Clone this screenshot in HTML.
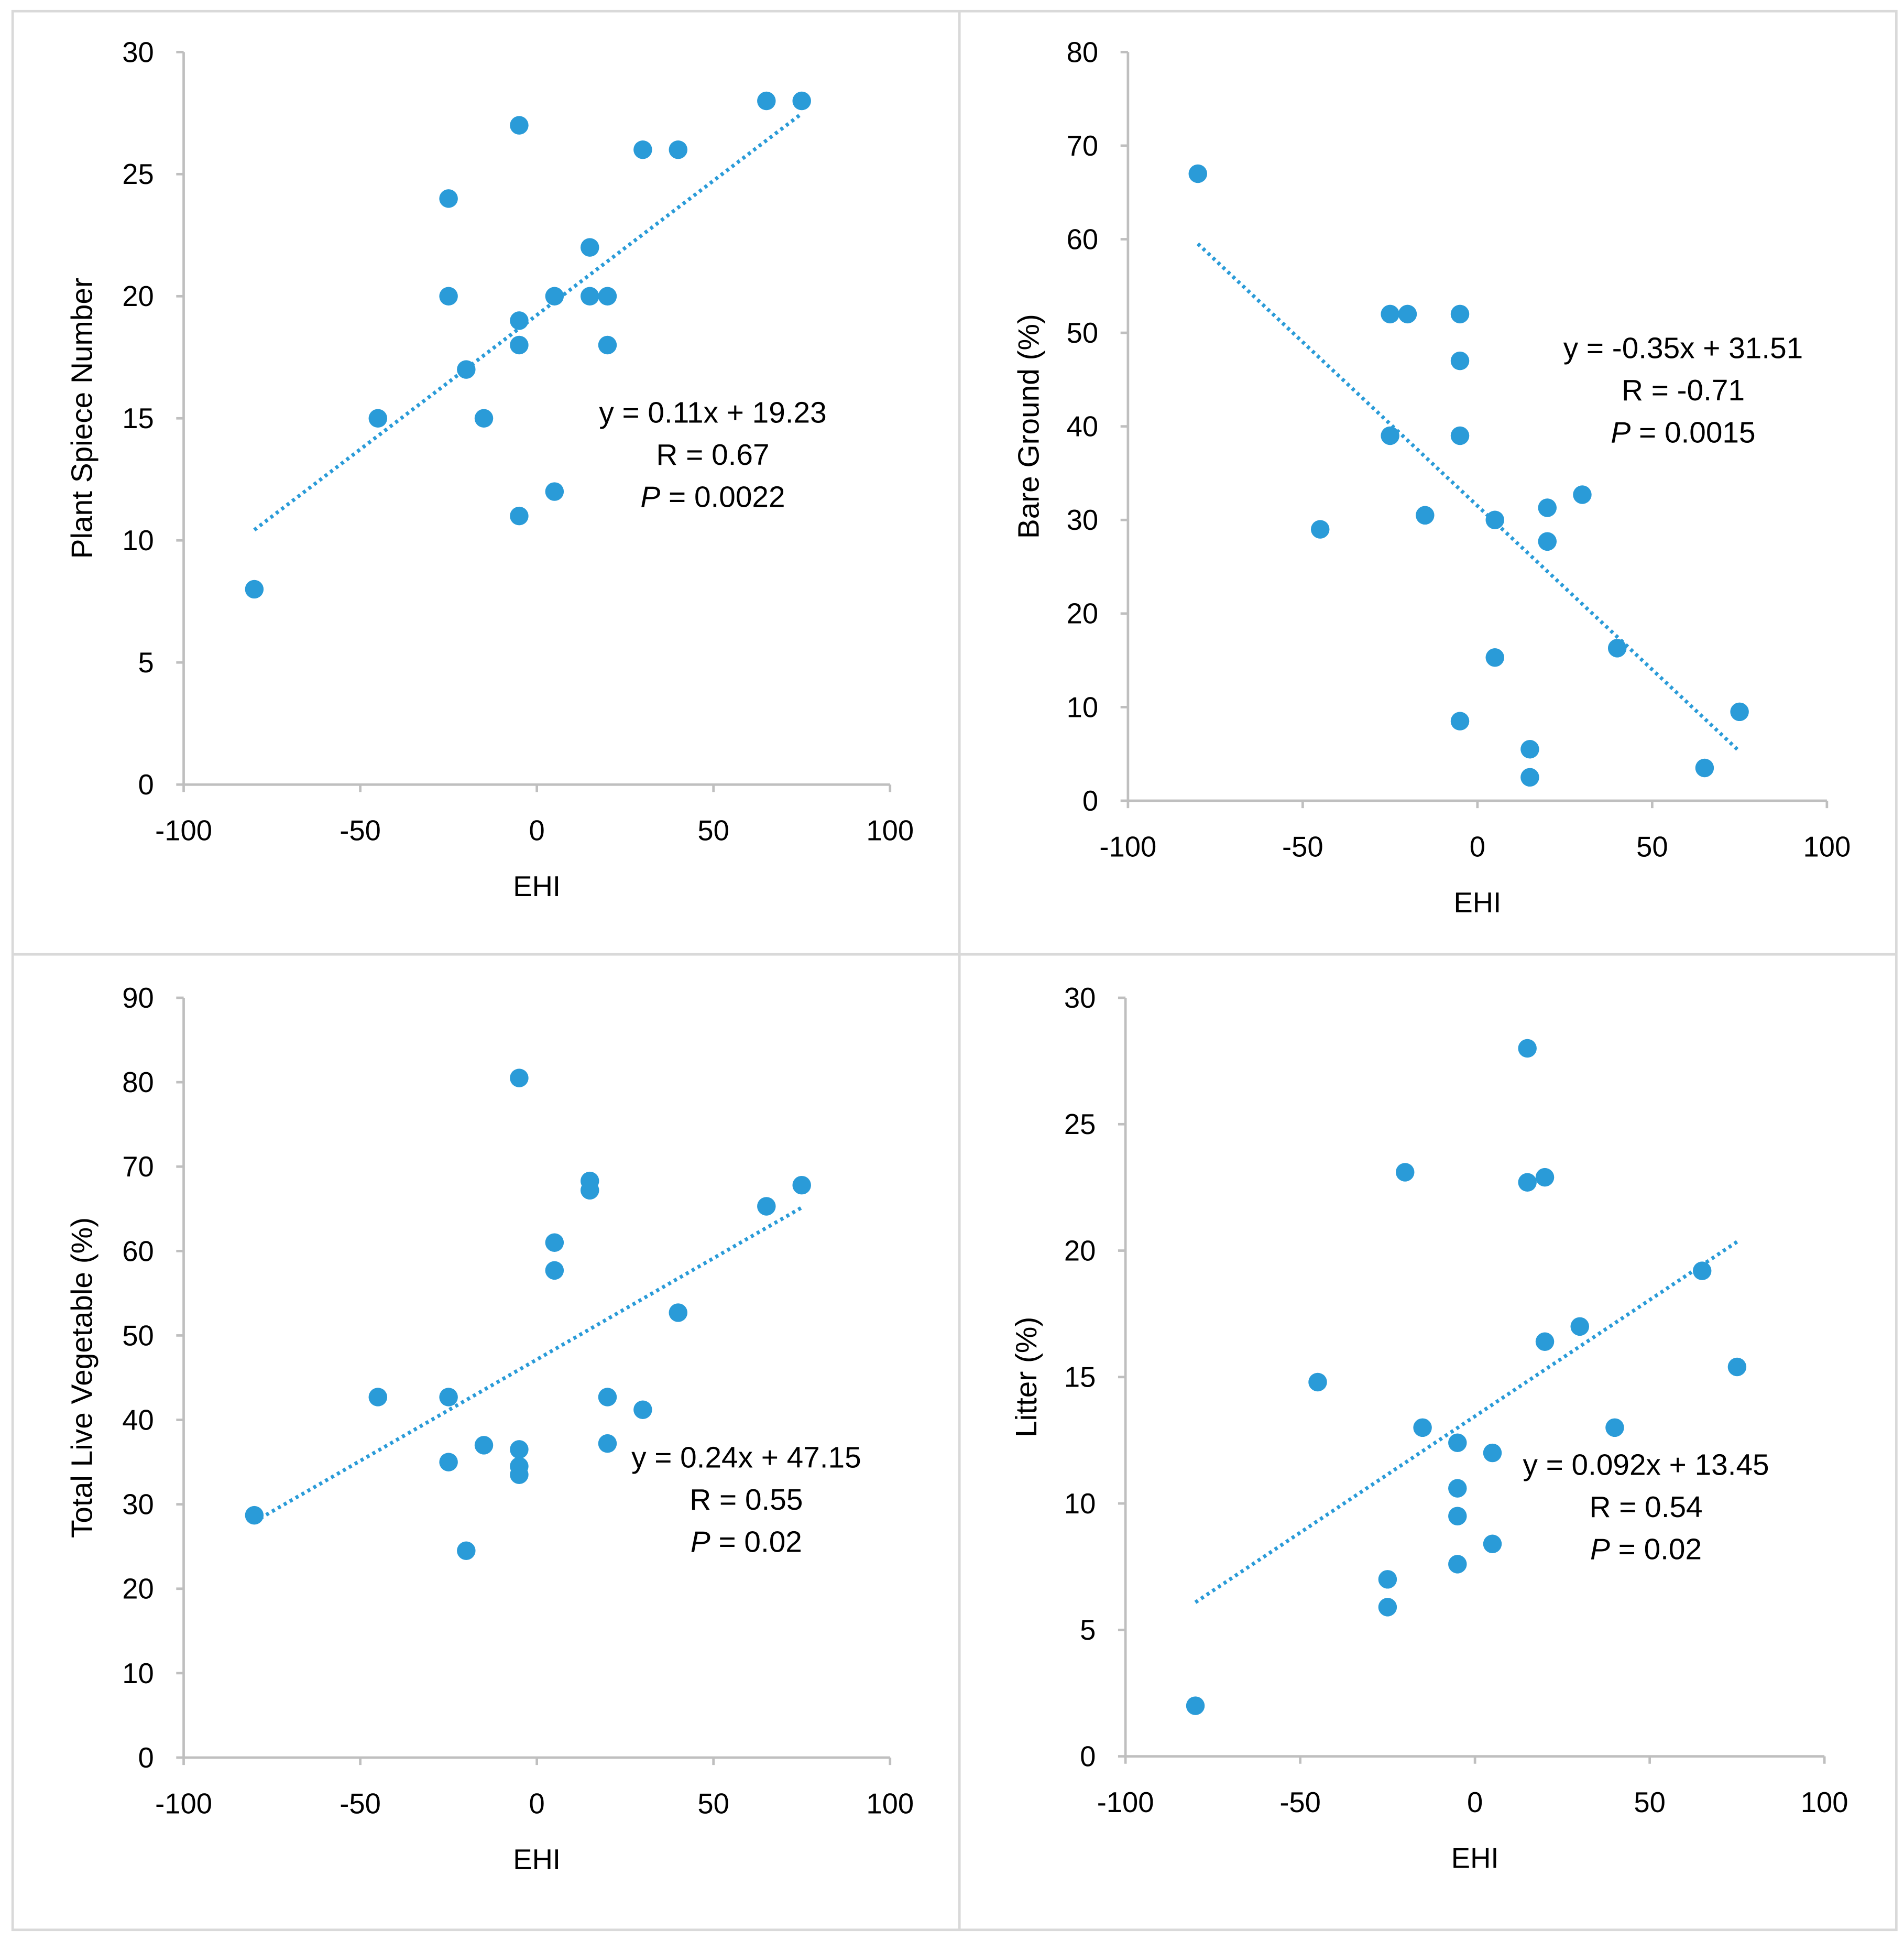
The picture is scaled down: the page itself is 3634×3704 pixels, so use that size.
<!DOCTYPE html>
<html><head><meta charset="utf-8"><style>
html,body{margin:0;padding:0;background:#fff;}
svg{display:block;font-family:"Liberation Sans",sans-serif;}
</style></head><body>
<svg id="fig" width="3634" height="3704" viewBox="0 0 1536 1566" xmlns="http://www.w3.org/2000/svg">
<rect x="10" y="9" width="1520" height="1548" fill="#fff" stroke="#d9d9d9" stroke-width="2"/>
<line x1="774" y1="9" x2="774" y2="1557" stroke="#d9d9d9" stroke-width="2"/>
<line x1="10" y1="770" x2="1530" y2="770" stroke="#d9d9d9" stroke-width="2"/>
</svg>
<script>
const xTicks = [-100, -50, 0, 50, 100];
const ehi1 = [-80,-45,-25,-25,-20,-15,-5,-5,-5,-5,5,5,15,15,20,20,30,40,65,75];
const species = [8,15,24,20,17,15,27,19,18,11,20,12,22,20,20,18,26,26,28,28];
const ehi2 = [-80,-45,-25,-25,-20,-15,-5,-5,-5,-5,5,5,15,15,20,20,30,40,65,75];
const bare = [67,29,52,39,52,30.5,52,47,39,8.5,30,15.3,5.5,2.5,31.3,27.7,32.7,16.3,3.5,9.5];
const ehi3 = [-80,-45,-25,-25,-20,-15,-5,-5,-5,-5,5,5,15,15,20,20,30,40,65,75];
const live = [28.7,42.7,42.7,35,24.5,37,80.5,36.5,34.5,33.5,61,57.7,68.3,67.2,42.7,37.2,41.2,52.7,65.3,67.8];
const ehi4 = [-80,-45,-25,-25,-20,-15,-5,-5,-5,-5,5,5,15,15,20,20,30,40,65,75];
const litter = [2,14.8,7,5.9,23.1,13,12.4,10.6,9.5,7.6,12,8.4,28,22.7,22.9,16.4,17,13,19.2,15.4];
const yTicks1 = [0,5,10,15,20,25,30];
const yTicks2 = [0,10,20,30,40,50,60,70,80];
const yTicks3 = [0,10,20,30,40,50,60,70,80,90];
const yTicks4 = [0,5,10,15,20,25,30];
const fit1 = [0.11, 19.23];
const fit2 = [-0.35, 31.51];
const fit3 = [0.24, 47.15];
const fit4 = [0.092, 13.45];

const NS = "http://www.w3.org/2000/svg";
const svg = document.getElementById('fig');
const BLUE = "#2a9bd8";
const FS = 23;
function mk(tag, attrs, parent){const e=document.createElementNS(NS,tag);for(const k in attrs)e.setAttribute(k,attrs[k]);(parent||svg).appendChild(e);return e;}

function panel(o){
  const g = mk('g',{});
  
  
  const ymax = o.yt[o.yt.length-1];
  const sx = v => o.x0 + (v+100)/200*(o.x1-o.x0);
  const sy = v => o.y0 - v/ymax*(o.y0-o.y1);
  const ax = mk('line',{x1:sx(-100),y1:o.y0,x2:sx(100),y2:o.y0,stroke:"#bfbfbf","stroke-width":2},g);
  
  
  const ay = mk('line',{x1:sx(-100),y1:o.y0,x2:sx(-100),y2:o.y1,stroke:"#bfbfbf","stroke-width":2},g);
  
  
  xTicks.forEach(t=>{
    mk('line',{x1:sx(t),y1:o.y0,x2:sx(t),y2:o.y0+6,stroke:"#bfbfbf","stroke-width":2},g);
    const tx = mk('text',{x:sx(t),y:o.y0+45,"text-anchor":"middle","font-size":FS,fill:"#000"},g);
    tx.textContent = t;
    
    
  });
  o.yt.forEach(t=>{
    mk('line',{x1:sx(-100)-6,y1:sy(t),x2:sx(-100),y2:sy(t),stroke:"#bfbfbf","stroke-width":2},g);
    const tx = mk('text',{x:sx(-100)-24,y:sy(t)+8,"text-anchor":"end","font-size":FS,fill:"#000"},g);
    tx.textContent = t;
    
    
  });
  const xt = mk('text',{x:sx(0),y:o.y0+90,"text-anchor":"middle","font-size":FS,fill:"#000"},g);
  xt.textContent = "EHI";
  
  
  const yc = (o.y0+o.y1)/2;
  const yt = mk('text',{x:o.ytx,y:yc,"text-anchor":"middle","font-size":24,fill:"#000",transform:`rotate(-90 ${o.ytx} ${yc})`},g);
  yt.textContent = o.ytitle;
  
  
  const xa = Math.min(...o.xs), xb = Math.max(...o.xs);
  const tl = mk('line',{x1:sx(xa),y1:sy(o.fit[0]*xa+o.fit[1]),x2:sx(xb),y2:sy(o.fit[0]*xb+o.fit[1]),stroke:BLUE,"stroke-width":3,"stroke-dasharray":"2.5 3"},g);
  
  
  o.xs.forEach((x,i)=>{
    const c = mk('circle',{cx:sx(x),cy:sy(o.ys[i]),r:7.5,fill:BLUE},g);
    
    
  });
  const lines = [o.eq, "R = "+o.r];
  lines.forEach((s,i)=>{
    const t = mk('text',{x:o.ex,y:o.ey+i*34,"text-anchor":"middle","font-size":24,fill:"#000"},g);
    t.textContent = s;
    
    
  });
  const p = mk('text',{x:o.ex,y:o.ey+68,"text-anchor":"middle","font-size":24,fill:"#000"},g);
  
  
  const pi = mk('tspan',{"font-style":"italic"},p); pi.textContent="P";
  const pr = mk('tspan',{},p); pr.textContent=" = "+o.p;
}
panel({name:'panel-plant-species',x0:148,x1:718,y0:633,y1:42,yt:yTicks1,xs:ehi1,ys:species,fit:fit1,ytitle:"Plant Spiece Number",ytx:74,eq:"y = 0.11x + 19.23",r:"0.67",p:"0.0022",ex:575,ey:341});
panel({name:'panel-bare-ground',x0:910,x1:1474,y0:646,y1:42,yt:yTicks2,xs:ehi2,ys:bare,fit:fit2,ytitle:"Bare Ground (%)",ytx:838,eq:"y = -0.35x + 31.51",r:"-0.71",p:"0.0015",ex:1358,ey:289});
panel({name:'panel-live-vegetable',x0:148,x1:718,y0:1418,y1:805,yt:yTicks3,xs:ehi3,ys:live,fit:fit3,ytitle:"Total Live Vegetable (%)",ytx:74,eq:"y = 0.24x + 47.15",r:"0.55",p:"0.02",ex:602,ey:1184});
panel({name:'panel-litter',x0:908,x1:1472,y0:1417,y1:805,yt:yTicks4,xs:ehi4,ys:litter,fit:fit4,ytitle:"Litter (%)",ytx:836,eq:"y = 0.092x + 13.45",r:"0.54",p:"0.02",ex:1328,ey:1190});
</script>
</body></html>
